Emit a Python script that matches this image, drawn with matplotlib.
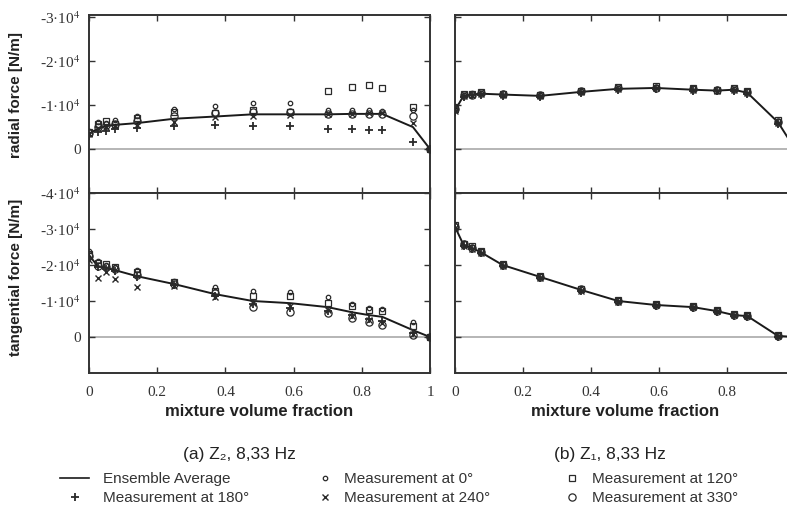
import numpy as np
import matplotlib
matplotlib.use("Agg")
import matplotlib.pyplot as plt
from matplotlib.lines import Line2D

plt.rcParams['font.family'] = ['Liberation Serif', 'DejaVu Serif']
plt.rcParams['mathtext.fontset'] = 'stix'

SANS = ['Liberation Sans', 'DejaVu Sans']
INK = '#333333'

# volume fraction of the mixture (same grid for both rotors)
frac = [0, 0.025, 0.05, 0.075, 0.14, 0.25, 0.37, 0.48, 0.59, 0.70, 0.77, 0.82, 0.86, 0.95, 1.0]

# forces in 10^4 N/m  (negative = upward on the plot)
# (a) Z2 - radial
rad_a_avg = [-0.35, -0.46, -0.52, -0.55, -0.59, -0.69, -0.74, -0.79, -0.79, -0.79, -0.80, -0.80, -0.80, -0.50, 0]
rad_a_0 = [-0.40, -0.62, -0.60, -0.66, -0.75, -0.92, -0.99, -1.05, -1.05, -0.88, -0.88, -0.88, -0.86, -0.88, 0]
rad_a_120 = [-0.38, -0.56, -0.64, -0.58, -0.70, -0.85, -0.82, -0.88, -0.85, -1.33, -1.42, -1.46, -1.38, -0.95, 0]
rad_a_180 = [-0.30, -0.38, -0.42, -0.46, -0.48, -0.52, -0.54, -0.52, -0.52, -0.46, -0.46, -0.44, -0.44, -0.16, 0]
rad_a_240 = [-0.35, -0.48, -0.50, -0.52, -0.55, -0.62, -0.72, -0.75, -0.78, -0.80, -0.80, -0.82, -0.82, -0.60, 0]
rad_a_330 = [-0.37, -0.50, -0.55, -0.56, -0.63, -0.75, -0.82, -0.85, -0.85, -0.80, -0.80, -0.80, -0.80, -0.75, 0]

# (a) Z2 - tangential
tan_a_avg = [-2.28, -1.97, -1.92, -1.86, -1.69, -1.47, -1.19, -1.00, -0.94, -0.83, -0.69, -0.61, -0.56, -0.19, 0]
tan_a_0 = [-2.39, -2.10, -2.00, -1.95, -1.86, -1.55, -1.39, -1.28, -1.25, -1.11, -0.92, -0.80, -0.78, -0.42, 0]
tan_a_120 = [-2.30, -2.05, -2.02, -1.95, -1.80, -1.52, -1.28, -1.15, -1.15, -0.95, -0.85, -0.75, -0.72, -0.30, 0]
tan_a_180 = [-2.20, -1.95, -1.90, -1.82, -1.66, -1.45, -1.15, -0.92, -0.80, -0.72, -0.60, -0.50, -0.45, -0.12, 0]
tan_a_240 = [-2.15, -1.64, -1.80, -1.61, -1.39, -1.42, -1.12, -0.95, -0.85, -0.75, -0.58, -0.48, -0.40, -0.08, 0]
tan_a_330 = [-2.25, -1.98, -1.95, -1.88, -1.72, -1.48, -1.22, -0.83, -0.69, -0.67, -0.53, -0.42, -0.33, -0.06, 0]

# (b) Z1 - radial
rad_b_avg = [-0.88, -1.21, -1.24, -1.26, -1.24, -1.21, -1.30, -1.37, -1.39, -1.35, -1.33, -1.35, -1.28, -0.61, 0]
rad_b_0 = [-0.92, -1.24, -1.27, -1.28, -1.27, -1.24, -1.33, -1.40, -1.42, -1.38, -1.36, -1.37, -1.31, -0.64, 0]
rad_b_120 = [-0.95, -1.26, -1.25, -1.29, -1.26, -1.23, -1.32, -1.41, -1.44, -1.39, -1.35, -1.38, -1.32, -0.66, 0]
rad_b_180 = [-0.85, -1.19, -1.22, -1.24, -1.21, -1.19, -1.28, -1.35, -1.37, -1.32, -1.31, -1.33, -1.26, -0.58, 0]
rad_b_240 = [-0.86, -1.20, -1.23, -1.25, -1.22, -1.20, -1.29, -1.36, -1.38, -1.34, -1.32, -1.34, -1.27, -0.60, 0]
rad_b_330 = [-0.90, -1.22, -1.24, -1.27, -1.25, -1.22, -1.31, -1.38, -1.40, -1.36, -1.34, -1.36, -1.29, -0.62, 0]

# (b) Z1 - tangential
tan_b_avg = [-3.06, -2.56, -2.47, -2.36, -2.00, -1.67, -1.31, -1.00, -0.89, -0.83, -0.72, -0.61, -0.58, -0.03, 0]
tan_b_0 = [-3.12, -2.60, -2.50, -2.40, -2.04, -1.70, -1.34, -1.03, -0.91, -0.85, -0.75, -0.64, -0.61, -0.06, 0]
tan_b_120 = [-3.10, -2.58, -2.52, -2.39, -2.02, -1.69, -1.33, -1.02, -0.91, -0.86, -0.74, -0.63, -0.60, -0.05, 0]
tan_b_180 = [-3.00, -2.53, -2.44, -2.33, -1.97, -1.64, -1.28, -0.97, -0.87, -0.81, -0.70, -0.59, -0.56, -0.01, 0]
tan_b_240 = [-3.02, -2.54, -2.45, -2.34, -1.98, -1.65, -1.29, -0.98, -0.88, -0.82, -0.71, -0.60, -0.57, -0.02, 0]
tan_b_330 = [-3.06, -2.57, -2.48, -2.37, -2.01, -1.68, -1.32, -1.00, -0.90, -0.84, -0.73, -0.62, -0.59, -0.04, 0]

xtick_vals = [0, 0.2, 0.4, 0.6, 0.8, 1.0]
xtick_txt_a = ['0', '0.2', '0.4', '0.6', '0.8', '1']
xtick_txt_b = ['0', '0.2', '0.4', '0.6', '0.8', '']
rad_ticks = [-3e4, -2e4, -1e4, 0]
tan_ticks = [-4e4, -3e4, -2e4, -1e4, 0]

# marker style for each measurement angle
styles = {
    '0':   dict(marker='o', ms=3.2, mfc='none', mew=0.9),
    '120': dict(marker='s', ms=4.2, mfc='none', mew=0.9),
    '180': dict(marker='+', ms=5.5, mew=1.3),
    '240': dict(marker='x', ms=4.5, mew=1.0),
    '330': dict(marker='o', ms=5.2, mfc='none', mew=0.9),
}


def tick_lab(v):
    if v == 0:
        return '0'
    return '-%d\u00b710$^{4}$' % int(abs(v) / 1e4)


def panel(ax, avg, meas, ylim, yticks, show_ylab, xlabels):
    x = np.array(frac)
    ax.axhline(0, color='#b0b0b0', lw=1.3, zorder=1)
    ax.plot(x, np.array(avg) * 1e4, color='#1a1a1a', lw=1.4, zorder=3)
    for key, vals in meas.items():
        ax.plot(x, np.array(vals) * 1e4, ls='none', color='#2a2a2a',
                zorder=4, **styles[key])
    ax.set_xlim(0, 1)
    ax.set_ylim(*ylim)
    ax.set_yticks(yticks)
    ax.set_xticks(xtick_vals)
    ax.tick_params(direction='in', top=True, right=True, length=4, width=1,
                   colors=INK, labelsize=11)
    ax.tick_params(axis='y', pad=6)
    ax.tick_params(axis='x', pad=9)
    if show_ylab:
        ax.set_yticklabels([tick_lab(v) for v in yticks])
    else:
        ax.set_yticklabels([])
    if xlabels is not None:
        ax.set_xticklabels(xlabels)
    else:
        ax.set_xticklabels([])
    for s in ax.spines.values():
        s.set_color(INK)
        s.set_linewidth(1.4)


fig = plt.figure(figsize=(7.87, 5.15), dpi=100)
W, H = 787, 515

def box(x0, x1, y0, y1):
    return [x0 / W, 1 - y1 / H, (x1 - x0) / W, (y1 - y0) / H]

ax_ra = fig.add_axes(box(89, 430, 15, 193))
ax_ta = fig.add_axes(box(89, 430, 193, 373))
ax_rb = fig.add_axes(box(455, 795, 15, 193))
ax_tb = fig.add_axes(box(455, 795, 193, 373))

panel(ax_ra, rad_a_avg, {'0': rad_a_0, '120': rad_a_120, '180': rad_a_180,
                         '240': rad_a_240, '330': rad_a_330},
      (1e4, -3.05e4), rad_ticks, True, None)
panel(ax_ta, tan_a_avg, {'0': tan_a_0, '120': tan_a_120, '180': tan_a_180,
                         '240': tan_a_240, '330': tan_a_330},
      (1e4, -4e4), tan_ticks, True, xtick_txt_a)
panel(ax_rb, rad_b_avg, {'0': rad_b_0, '120': rad_b_120, '180': rad_b_180,
                         '240': rad_b_240, '330': rad_b_330},
      (1e4, -3.05e4), rad_ticks, False, None)
panel(ax_tb, tan_b_avg, {'0': tan_b_0, '120': tan_b_120, '180': tan_b_180,
                         '240': tan_b_240, '330': tan_b_330},
      (1e4, -4e4), tan_ticks, False, xtick_txt_b)

lab_kw = dict(family=SANS, fontsize=11, fontweight='bold', color='#222222')
ax_ra.set_ylabel('radial force [N/m]', **lab_kw)
ax_ra.yaxis.set_label_coords(-0.195, 0.55)
ax_ta.set_ylabel('tangential force [N/m]', **lab_kw)
ax_ta.yaxis.set_label_coords(-0.195, 0.53)
xl_kw = dict(lab_kw, fontsize=12)
ax_ta.set_xlabel('mixture volume fraction', labelpad=4, **xl_kw)
ax_tb.set_xlabel('mixture volume fraction', labelpad=4, **xl_kw)

cap_kw = dict(family=SANS, fontsize=12.5, color='#222222', ha='center', va='center')
fig.text(239 / W, 1 - 455 / H, '(a) Z\u2082, 8,33 Hz', **cap_kw)
fig.text(610 / W, 1 - 455 / H, '(b) Z\u2081, 8,33 Hz', **cap_kw)

# legend, three columns placed by hand
def mk(key):
    return Line2D([], [], ls='none', color='#2a2a2a', **styles[key])

leg_kw = dict(loc='upper left', frameon=False, borderpad=0, borderaxespad=0,
              labelspacing=0.35, prop={'family': SANS, 'size': 11},
              labelcolor='#333333')
y_leg = 1 - 472 / H
fig.legend([Line2D([], [], color='#1a1a1a', lw=1.2), mk('180')],
           ['Ensemble Average', 'Measurement at 180\u00b0'],
           bbox_to_anchor=(60 / W, y_leg), handlelength=1.9, handletextpad=0.9,
           **leg_kw)
fig.legend([mk('0'), mk('240')],
           ['Measurement at 0\u00b0', 'Measurement at 240\u00b0'],
           bbox_to_anchor=(317 / W, y_leg), handlelength=1.1, handletextpad=0.7,
           **leg_kw)
fig.legend([mk('120'), mk('330')],
           ['Measurement at 120\u00b0', 'Measurement at 330\u00b0'],
           bbox_to_anchor=(564 / W, y_leg), handlelength=1.1, handletextpad=0.7,
           **leg_kw)

plt.savefig('out.png', dpi=100)
